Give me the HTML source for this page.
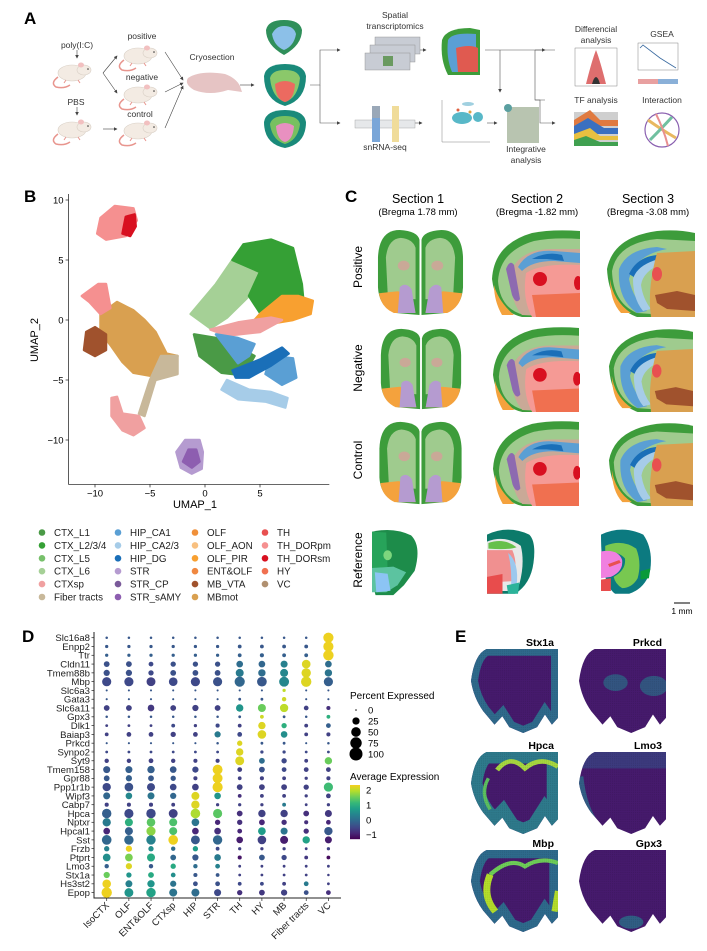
<!DOCTYPE html>
<html><head><meta charset="utf-8"><style>
html,body{margin:0;padding:0;background:#fff}
svg{display:block;font-family:"Liberation Sans",Arial,sans-serif}
</style></head><body>
<svg id="fig" width="707" height="951" viewBox="0 0 707 951" xmlns="http://www.w3.org/2000/svg">
<defs>
 <marker id="arr" markerWidth="6" markerHeight="6" refX="5" refY="3" orient="auto"><path d="M0,0 L6,3 L0,6 Z" fill="#444"/></marker>
 <pattern id="spots" width="2.2" height="2.2" patternUnits="userSpaceOnUse"><rect width="2.2" height="2.2" fill="none"/><circle cx="1.1" cy="1.1" r="0.5" fill="#000" opacity="0.15"/></pattern>
 <clipPath id="ebrain"><path d="M18,0 L100,0 L100,82 L93,90 L85,78 L76,93 L60,100 L44,93 L36,80 L27,90 L14,74 Q3,58 0,38 Q4,6 18,0 Z"/></clipPath>
 <g id="mouse">
  <path d="M-14,4 Q-22,10 -16,14 Q-8,16 -2,12" fill="none" stroke="#e8958e" stroke-width="1.5"/>
  <ellipse cx="0" cy="0" rx="14" ry="8" fill="#f3ebe3" stroke="#d8cfc5" stroke-width="0.6"/>
  <ellipse cx="12" cy="-3" rx="7" ry="5" fill="#f3ebe3" stroke="#d8cfc5" stroke-width="0.6"/>
  <ellipse cx="9" cy="-8" rx="3" ry="2.5" fill="#f2c0c0"/>
  <circle cx="16" cy="-4" r="0.8" fill="#333"/>
  <path d="M-6,7 l-2,3 M6,7 l2,3" stroke="#e8958e" stroke-width="1"/>
 </g>
 <symbol id="sec1" viewBox="0 0 90 90">
  <path d="M2,30 Q3,2 24,2 Q42,3 44,12 L44,88 L20,86 Q3,80 2,60 Z" fill="#3d9c3b"/>
  <path d="M88,30 Q87,2 66,2 Q48,3 46,12 L46,88 L70,86 Q87,80 88,60 Z" fill="#3d9c3b"/>
  <path d="M10,30 Q12,11 25,10 Q37,11 40,20 L40,72 L12,70 Z" fill="#9fcb8e"/>
  <path d="M80,30 Q78,11 65,10 Q53,11 50,20 L50,72 L78,70 Z" fill="#9fcb8e"/>
  <ellipse cx="28" cy="38" rx="6" ry="5" fill="#c9a997"/><ellipse cx="62" cy="38" rx="6" ry="5" fill="#c9a997"/>
  <path d="M3,66 L22,64 L36,68 L40,86 L18,86 Q5,80 3,66Z" fill="#f4a23d"/>
  <path d="M87,66 L68,64 L54,68 L50,86 L72,86 Q85,80 87,66Z" fill="#f4a23d"/>
  <path d="M24,60 Q30,54 36,62 L40,86 L22,86 Z" fill="#b59bd0"/>
  <path d="M66,60 Q60,54 54,62 L50,86 L68,86 Z" fill="#b59bd0"/>
 </symbol>
 <symbol id="sec2" viewBox="0 0 88 88">
  <path d="M0,50 Q2,15 40,4 Q60,0 88,2 L88,88 L30,88 Q4,82 0,50Z" fill="#3d9c3b"/>
  <path d="M6,52 Q8,22 42,12 Q62,8 88,10 L88,88 L32,86 Q8,80 6,52Z" fill="#9fcb8e"/>
  <path d="M20,40 Q30,20 60,20 L88,20 L88,88 L30,86 Q16,70 20,40Z" fill="#c9a997"/>
  <path d="M26,38 Q36,20 62,22 L88,24 L88,34 L62,32 Q40,32 30,42Z" fill="#5a9fd4"/>
  <path d="M40,30 Q55,22 70,26 L72,32 L55,30 Z" fill="#1a6fb8"/>
  <path d="M34,44 Q50,34 88,36 L88,88 L40,88 Q30,70 34,44Z" fill="#f59a95"/>
  <ellipse cx="48" cy="50" rx="7" ry="7" fill="#d81020"/>
  <ellipse cx="86" cy="54" rx="4" ry="7" fill="#d81020"/>
  <path d="M40,66 L88,64 L88,88 L44,88 Z" fill="#f07050"/>
  <path d="M14,40 Q18,30 22,36 L28,70 Q24,76 20,66 Z" fill="#8d6ab0"/>
  <path d="M2,56 Q6,72 22,86 L10,86 Q2,72 2,56Z" fill="#f4a23d"/>
 </symbol>
 <symbol id="sec3" viewBox="0 0 88 88">
  <path d="M0,40 Q6,8 50,2 Q70,0 88,4 L88,88 L30,88 Q2,78 0,40Z" fill="#3d9c3b"/>
  <path d="M5,42 Q10,14 50,10 L88,12 L88,88 L30,84 Q6,74 5,42Z" fill="#9fcb8e"/>
  <path d="M12,40 Q20,20 50,18 L60,20 Q28,26 22,50 Q26,70 40,82 L30,84 Q10,70 12,40Z" fill="#5a9fd4"/>
  <path d="M22,45 Q30,28 50,26 L54,30 Q34,36 30,50 Z" fill="#1a6fb8"/>
  <path d="M26,50 Q30,36 52,30 L56,34 Q36,42 34,56 Q36,70 44,80 L36,82 Q26,70 26,50Z" fill="#a6cce8"/>
  <path d="M50,24 L88,22 L88,88 L44,88 Q40,60 50,24Z" fill="#d9a050"/>
  <ellipse cx="50" cy="45" rx="5" ry="7" fill="#e85050"/>
  <path d="M48,66 L70,62 L88,66 L88,82 L60,80 L50,74Z" fill="#a0522d"/>
  <path d="M3,50 Q6,72 24,84 L14,84 Q3,72 3,50Z" fill="#f4a23d"/>
 </symbol>
 <symbol id="ref1" viewBox="0 0 90 95">
  <path d="M0,5 Q30,-2 55,10 Q70,25 60,60 L45,80 L30,94 L5,94 Q0,80 0,5Z" fill="#1d8c4a"/>
  <path d="M0,5 L20,6 L22,60 L0,62Z" fill="#27a35a"/>
  <ellipse cx="22" cy="38" rx="6" ry="7" fill="#7ed67e"/>
  <path d="M0,56 L30,54 L48,62 L36,80 L20,90 L0,90Z" fill="#5cc3a0"/>
  <path d="M4,62 L22,64 L26,88 L6,90Z" fill="#8cc4f4"/>
 </symbol>
 <symbol id="ref2" viewBox="0 0 88 95">
  <path d="M0,10 Q30,-4 60,10 Q70,20 66,50 Q62,80 40,94 L0,94Z" fill="#0c7a6a"/>
  <path d="M0,20 Q26,10 48,26 Q54,50 46,80 L30,90 L0,90Z" fill="#e8e8e8"/>
  <path d="M2,22 Q24,14 42,28 Q32,32 2,30Z" fill="#66c04a"/>
  <path d="M0,32 L36,32 Q44,50 38,76 L0,78Z" fill="#f09090"/>
  <path d="M30,36 Q46,50 42,82 L34,88 Q36,60 30,36Z" fill="#9cc8ee"/>
  <path d="M0,70 L22,66 L22,94 L0,94Z" fill="#e84c4c"/>
  <path d="M28,82 L46,78 L44,94 L30,94Z" fill="#2bb39a"/>
 </symbol>
 <symbol id="ref3" viewBox="0 0 88 95">
  <path d="M0,10 Q30,-4 60,10 Q74,30 70,60 Q64,86 40,94 L20,94 Q0,80 0,10Z" fill="#0c7a80"/>
  <path d="M6,26 Q30,16 50,30 Q58,50 52,72 Q44,86 30,86 Q20,80 18,70 Q36,60 34,44 Q26,34 6,34Z" fill="#78c850"/>
  <path d="M0,34 Q24,30 30,46 Q32,62 14,70 L0,72Z" fill="#f080e0"/>
  <path d="M10,52 L26,46 L28,50 L12,56Z" fill="#e85050"/>
  <path d="M0,74 L14,72 L14,90 L0,90Z" fill="#e84c4c"/>
  <path d="M56,62 L70,58 L68,72 L56,74Z" fill="#0a9a3a"/>
 </symbol>
</defs>

<g font-size="8.5" fill="#333">
 <text x="24" y="24" font-size="17" font-weight="bold" fill="#000">A</text>
 <text x="77" y="48" text-anchor="middle">poly(I:C)</text>
 <line x1="77" y1="50" x2="77" y2="58" stroke="#444" stroke-width="0.6" marker-end="url(#arr)"/>
 <use href="#mouse" x="72" y="73"/>
 <text x="76" y="105" text-anchor="middle">PBS</text>
 <line x1="77" y1="107" x2="77" y2="115" stroke="#444" stroke-width="0.6" marker-end="url(#arr)"/>
 <use href="#mouse" x="72" y="130"/>
 <text x="142" y="39" text-anchor="middle">positive</text>
 <use href="#mouse" x="138" y="56"/>
 <text x="142" y="80" text-anchor="middle">negative</text>
 <use href="#mouse" x="138" y="95"/>
 <text x="140" y="117" text-anchor="middle">control</text>
 <use href="#mouse" x="138" y="131"/>
 <g stroke="#444" stroke-width="0.6" fill="none">
  <line x1="103" y1="73" x2="117" y2="56" marker-end="url(#arr)"/>
  <line x1="103" y1="73" x2="117" y2="93" marker-end="url(#arr)"/>
  <line x1="103" y1="129" x2="117" y2="129" marker-end="url(#arr)"/>
  <line x1="165" y1="52" x2="183" y2="80" marker-end="url(#arr)"/>
  <line x1="165" y1="92" x2="183" y2="83" marker-end="url(#arr)"/>
  <line x1="165" y1="128" x2="183" y2="86" marker-end="url(#arr)"/>
  <line x1="240" y1="85" x2="254" y2="85" marker-end="url(#arr)"/>
 </g>
 <text x="212" y="60" text-anchor="middle">Cryosection</text>
 <path d="M188,78 Q200,70 225,74 Q236,78 240,86 L242,92 L228,90 Q210,96 194,90 Q184,84 188,78Z" fill="#e6c4c4"/>
 <g>
  <path d="M266,30 Q268,20 284,20 Q300,20 302,30 Q302,45 284,55 Q266,45 266,30Z" fill="#2f8f5a"/>
  <path d="M272,34 Q276,26 284,26 Q294,26 296,34 Q294,46 284,50 Q274,46 272,34Z" fill="#8cc0e8"/>
  <path d="M264,76 Q266,64 285,64 Q304,64 306,76 Q306,100 285,106 Q264,100 264,76Z" fill="#1a8a7a"/>
  <path d="M270,78 Q272,70 285,70 Q298,70 300,78 Q298,98 285,102 Q272,98 270,78Z" fill="#8bc86a"/>
  <path d="M275,84 Q285,78 295,84 Q294,100 285,102 Q276,100 275,84Z" fill="#ec6a60"/>
  <path d="M264,122 Q266,110 285,110 Q304,110 306,122 Q306,144 285,148 Q264,144 264,122Z" fill="#1a8a7a"/>
  <path d="M270,124 Q272,116 285,116 Q298,116 300,124 Q298,140 285,144 Q272,140 270,124Z" fill="#78c060"/>
  <path d="M276,126 Q285,120 294,126 Q293,140 285,142 Q277,140 276,126Z" fill="#e890c0"/>
 </g>
 <g stroke="#555" stroke-width="0.6" fill="none">
  <path d="M310,85 L320,85 L320,50 L340,50" marker-end="url(#arr)"/>
  <path d="M320,85 L320,123 L340,123" marker-end="url(#arr)"/>
  <line x1="412" y1="50" x2="426" y2="50" marker-end="url(#arr)"/>
  <path d="M485,50 L555,50" />
  <path d="M500,50 L500,92" marker-end="url(#arr)"/>
  <path d="M535,50 L535,100 L545,100" />
  <path d="M535,50 L545,50" marker-end="url(#arr)"/>
  <path d="M535,100 L540,100 L540,123 L555,123" marker-end="url(#arr)"/>
  <line x1="412" y1="123" x2="422" y2="123" marker-end="url(#arr)"/>
  <line x1="487" y1="123" x2="497" y2="123" marker-end="url(#arr)"/>
 </g>
 <text x="395" y="18" text-anchor="middle">Spatial</text>
 <text x="395" y="29" text-anchor="middle">transcriptomics</text>
 <g>
  <rect x="375" y="37" width="45" height="17" fill="#c8ccd4" stroke="#888" stroke-width="0.4"/>
  <rect x="370" y="45" width="45" height="17" fill="#c8ccd4" stroke="#888" stroke-width="0.4"/>
  <rect x="365" y="53" width="45" height="17" fill="#c8ccd4" stroke="#888" stroke-width="0.4"/>
  <rect x="383" y="56" width="10" height="10" fill="#6a9a60"/>
 </g>
 <g>
  <path d="M442,40 Q446,28 470,28 L480,30 L480,75 L448,75 Q440,60 442,40Z" fill="#3d9c3b"/>
  <path d="M448,40 Q452,32 476,34 L476,72 L452,72 Q446,58 448,40Z" fill="#5a9fd4"/>
  <path d="M456,48 Q470,44 478,48 L478,72 L458,72Z" fill="#e05a50"/>
 </g>
 <text x="385" y="150" text-anchor="middle">snRNA-seq</text>
 <g>
  <rect x="355" y="120" width="60" height="8" fill="#e6e8ea" stroke="#999" stroke-width="0.4"/>
  <rect x="372" y="106" width="8" height="36" fill="#7aa6d8"/>
  <rect x="392" y="106" width="7" height="36" fill="#f0dc9a"/>
  <rect x="372" y="106" width="8" height="12" fill="#9aa8b8"/>
 </g>
 <g>
  <line x1="442" y1="100" x2="442" y2="142" stroke="#666" stroke-width="0.4"/>
  <line x1="442" y1="142" x2="490" y2="142" stroke="#666" stroke-width="0.4"/>
  <ellipse cx="462" cy="118" rx="10" ry="6" fill="#58b8c8"/>
  <ellipse cx="478" cy="117" rx="5" ry="5" fill="#58b8c8"/>
  <ellipse cx="468" cy="104" rx="6" ry="2" fill="#a0d0e0"/>
  <circle cx="458" cy="110" r="1.5" fill="#e06040"/><circle cx="470" cy="112" r="1.5" fill="#e0a040"/>
 </g>
 <g>
  <rect x="507" y="107" width="32" height="36" fill="#b8c4b0"/>
  <circle cx="508" cy="108" r="4" fill="#5a9fa0"/>
 </g>
 <text x="526" y="152" text-anchor="middle">Integrative</text>
 <text x="526" y="163" text-anchor="middle">analysis</text>
 <text x="596" y="32" text-anchor="middle">Differencial</text>
 <text x="596" y="43" text-anchor="middle">analysis</text>
 <g>
  <rect x="575" y="48" width="42" height="38" fill="#fff" stroke="#666" stroke-width="0.4"/>
  <path d="M586,84 Q592,60 596,50 Q600,60 606,84Z" fill="#d03030" opacity="0.7"/>
  <path d="M592,84 Q596,70 600,84Z" fill="#333"/>
 </g>
 <text x="662" y="37" text-anchor="middle">GSEA</text>
 <g>
  <rect x="638" y="43" width="40" height="27" fill="#fff" stroke="#666" stroke-width="0.4"/>
  <polyline points="640,48 643,45 660,58 676,68" fill="none" stroke="#3a6aa0" stroke-width="0.8"/>
  <rect x="638" y="79" width="40" height="5" fill="#e8a0a0"/>
  <rect x="658" y="79" width="20" height="5" fill="#8ab0d8"/>
 </g>
 <text x="596" y="103" text-anchor="middle">TF analysis</text>
 <g>
  <rect x="574" y="112" width="44" height="34" fill="#cfcfcf"/>
  <path d="M574,120 L590,110 L600,120 L618,120 L618,126 L574,126Z" fill="#e07a40"/>
  <path d="M574,126 L588,118 L604,128 L618,128 L618,134 L574,134Z" fill="#3a70c0"/>
  <path d="M574,134 L590,128 L600,136 L618,136 L618,140 L574,140Z" fill="#e8c040"/>
  <path d="M574,140 L586,136 L600,142 L618,142 L618,146 L574,146Z" fill="#40a050"/>
 </g>
 <text x="662" y="103" text-anchor="middle">Interaction</text>
 <g>
  <circle cx="662" cy="130" r="17" fill="none" stroke="#8a60b0" stroke-width="1.2"/>
  <path d="M648,120 Q662,130 676,138" stroke="#e8b860" stroke-width="3" fill="none"/>
  <path d="M650,140 Q662,128 672,117" stroke="#70c0a0" stroke-width="3" fill="none"/>
  <path d="M656,114 Q664,130 668,146" stroke="#e89090" stroke-width="2" fill="none"/>
 </g>
</g>

<g id="panelB" font-size="9.5">
 <text x="24" y="202" font-size="17" font-weight="bold">B</text>
</g>

<g id="panelC">
 <text x="345" y="202" font-size="17" font-weight="bold">C</text>
 <text x="418" y="203" font-size="12.5" text-anchor="middle">Section 1</text>
 <text x="418" y="215" font-size="9.5" text-anchor="middle">(Bregma 1.78 mm)</text>
 <text x="537" y="203" font-size="12.5" text-anchor="middle">Section 2</text>
 <text x="537" y="215" font-size="9.5" text-anchor="middle">(Bregma -1.82 mm)</text>
 <text x="648" y="203" font-size="12.5" text-anchor="middle">Section 3</text>
 <text x="648" y="215" font-size="9.5" text-anchor="middle">(Bregma -3.08 mm)</text>
 <text transform="translate(362,267) rotate(-90)" font-size="12" text-anchor="middle">Positive</text>
 <text transform="translate(362,368) rotate(-90)" font-size="12" text-anchor="middle">Negative</text>
 <text transform="translate(362,460) rotate(-90)" font-size="12" text-anchor="middle">Control</text>
 <text transform="translate(362,560) rotate(-90)" font-size="12" text-anchor="middle">Reference</text>
 <use href="#sec1" x="376" y="228" width="89" height="89"/>
 <use href="#sec2" x="492" y="229" width="88" height="88"/>
 <use href="#sec3" x="607" y="229" width="88" height="88"/>
 <use href="#sec1" x="377" y="327" width="88" height="84"/>
 <use href="#sec2" x="492" y="326" width="88" height="86"/>
 <use href="#sec3" x="607" y="328" width="88" height="84"/>
 <use href="#sec1" x="376" y="420" width="89" height="86"/>
 <use href="#sec2" x="492" y="420" width="88" height="86"/>
 <use href="#sec3" x="607" y="422" width="88" height="84"/>
 <use href="#ref1" x="372" y="515" width="64" height="94" preserveAspectRatio="none"/>
 <use href="#ref2" x="487" y="515" width="62" height="92" preserveAspectRatio="none"/>
 <use href="#ref3" x="601" y="515" width="62" height="92" preserveAspectRatio="none"/>
 <line x1="674" y1="603" x2="690" y2="603" stroke="#000" stroke-width="1"/>
 <text x="682" y="614" font-size="8.5" text-anchor="middle">1 mm</text>
</g>

<g id="panelD" font-size="9.6">
 <text x="22" y="642" font-size="17" font-weight="bold">D</text>
 <text x="350" y="699" font-size="10">Percent Expressed</text>
 <text x="350" y="780" font-size="10">Average Expression</text>
</g>

<g id="panelE">
 <text x="455" y="642" font-size="17" font-weight="bold">E</text>
</g>
</svg>

<script>
const NS="http://www.w3.org/2000/svg";
function mk(parent,tag,attrs,txt){const e=document.createElementNS(NS,tag);for(const k in attrs)e.setAttribute(k,attrs[k]);if(txt!==undefined)e.textContent=txt;parent.appendChild(e);return e;}

const umapXTicks=[-10,-5,0,5];
const umapYTicks=[10,5,0,-5,-10];
const clusterNames=["CTX_L1","CTX_L2/3/4","CTX_L5","CTX_L6","CTXsp","Fiber tracts","HIP_CA1","HIP_CA2/3","HIP_DG","STR","STR_CP","STR_sAMY","OLF","OLF_AON","OLF_PIR","ENT&OLF","MB_VTA","MBmot","TH","TH_DORpm","TH_DORsm","HY","VC"];
const clusterColors=["#4a9a46","#35a035","#77c06b","#a5d096","#f0a0a0","#c8b89a","#5a9fd4","#a6cce8","#1a6fb8","#b59bd0","#7a5a9a","#8d5eb0","#f0903a","#f8c080","#f8a030","#f08840","#a0522d","#d9a050","#e85050","#f59090","#d81020","#f07050","#b09070"];
const blobCTXL6=[[-1.3,0.5],[1,3],[2.5,5],[4,5.8],[5,4],[4,2],[2,0.2],[0.5,-0.7]];
const blobCTX=[[2.5,5],[3.5,6.3],[6,6.7],[8,6],[8.8,3],[9,1],[7,0.5],[5,0.6],[4,2],[5,4]];
const blobOLF=[[5,0.5],[7,2],[8.5,2],[9.8,1.6],[9.6,0.5],[8,0],[6,-0.3],[4,-0.5]];
const blobSp=[[0.5,-0.8],[3,-0.2],[6,0.2],[7,0],[5,-1],[2,-1.3]];
const blobTH=[[-9.8,7.2],[-9.5,8.5],[-8.2,9.5],[-6.5,9.3],[-6.2,8.3],[-7.2,7],[-9,6.7]];
const blobTHsm=[[-7.5,7.2],[-7.2,8.6],[-6.4,8.8],[-6.3,7.8],[-6.8,7]];
const blobMBmot=[[-9.5,0.5],[-8,1.5],[-6.5,0.8],[-5.5,0],[-4.5,-1],[-3.5,-2.8],[-2.5,-3],[-3,-4.5],[-4,-4.8],[-6.5,-4.4],[-7.5,-3.5],[-8.5,-2.2],[-9.5,-1]];
const blobVTA=[[-10.8,-1],[-10,-0.6],[-9,-1.2],[-9,-2.5],[-10,-3],[-11,-2.5]];
const blobDORpm=[[-9.7,3],[-9,3],[-8.6,1],[-9.5,0.5],[-10.5,1.5],[-11.2,2]];
const blobFiber=[[-4,-3],[-2.5,-3],[-2.5,-4.5],[-4.5,-5],[-5.5,-8],[-6,-7.8],[-5,-5]];
const blobBottom=[[-8.5,-6.5],[-8,-6.4],[-7.5,-7.8],[-6,-8],[-5.5,-9],[-6.5,-9.6],[-7.5,-9.2],[-8.5,-8]];
const blobGreenStrip=[[-1,-1.2],[1,-1.5],[3.5,-2.5],[4.5,-3],[3.5,-4.6],[1.5,-4.4],[-0.5,-3]];
const blobDG=[[2.5,-4.2],[5,-3.3],[7,-2.3],[7.6,-2.8],[6,-3.8],[4,-4.8],[2.8,-4.8]];
const blobCA1=[[1,-1.2],[3,-1.5],[4.5,-2],[4,-3],[3,-3.6]];
const blobCA1b=[[6,-3],[8,-3.2],[8.3,-4.8],[7,-5.4],[5.5,-4.5]];
const blobCA23=[[2,-5],[4,-5.8],[6,-6],[7.5,-6.5],[7.3,-7.3],[5.5,-6.8],[3,-6.6],[1.5,-5.8]];
const blobSTR=[[-1.8,-10],[-0.5,-10],[-0.2,-11],[-0.3,-12.4],[-1.2,-12.8],[-2.2,-12.3],[-2.6,-11]];
const blobSTRsAMY=[[-1.5,-10.8],[-0.8,-10.8],[-0.5,-11.8],[-1.2,-12.3],[-2,-11.8]];
const blobList=[[3,blobCTXL6],[1,blobCTX],[14,blobOLF],[4,blobSp],[19,blobTH],[20,blobTHsm],[17,blobMBmot],[16,blobVTA],[19,blobDORpm],[5,blobFiber],[4,blobBottom],[0,blobGreenStrip],[6,blobCA1],[6,blobCA1b],[7,blobCA23],[8,blobDG],[9,blobSTR],[11,blobSTRsAMY]];

const bx=u=>205+11*u, by=v=>320-12*v;
(function(){
 const g=document.getElementById('panelB');
 blobList.forEach(([ci,pts])=>{
  const p=mk(g,'path',{d:'M'+pts.map(q=>bx(q[0]).toFixed(1)+','+by(q[1]).toFixed(1)).join(' L')+'Z',fill:clusterColors[ci],stroke:clusterColors[ci],'stroke-width':2.5,'stroke-linejoin':'round'});
  
  
 });
 const ax=mk(g,'path',{d:`M${bx(-12.4)},${by(10.5)} L${bx(-12.4)},${by(-13.7)} L${bx(11.3)},${by(-13.7)}`,fill:'none',stroke:'#333','stroke-width':0.8});
 
 
 umapXTicks.forEach(t=>{
  mk(g,'line',{x1:bx(t),x2:bx(t),y1:by(-13.7),y2:by(-13.7)+3,stroke:'#333','stroke-width':0.8});
  const l=mk(g,'text',{x:bx(t),y:by(-13.7)+12,'text-anchor':'middle','font-size':9.5},t<0?'\u2212'+(-t):t);
  
  
 });
 umapYTicks.forEach(t=>{
  mk(g,'line',{x1:bx(-12.4)-3,x2:bx(-12.4),y1:by(t),y2:by(t),stroke:'#333','stroke-width':0.8});
  const l=mk(g,'text',{x:bx(-12.4)-5,y:by(t)+3.5,'text-anchor':'end','font-size':9.5},t<0?'\u2212'+(-t):t);
  
  
 });
 const xt=mk(g,'text',{x:195,y:508,'text-anchor':'middle','font-size':11},'UMAP_1');
 
 
 const yt=mk(g,'text',{transform:'translate(38,340) rotate(-90)','text-anchor':'middle','font-size':11},'UMAP_2');
 
 
 const colX=[42,118,195,265];
 clusterNames.forEach((n,i)=>{
  const c=Math.floor(i/6), r=i%6, y=536+r*12.9;
  const d=mk(g,'circle',{cx:colX[c],cy:y-3.5,r:3.3,fill:clusterColors[i]});
  
  
  const t=mk(g,'text',{x:colX[c]+12,y:y,'font-size':9.8,fill:'#222'},n);
  
  
 });
})();

const genes=["Slc16a8","Enpp2","Ttr","Cldn11","Tmem88b","Mbp","Slc6a3","Gata3","Slc6a11","Gpx3","Dlk1","Baiap3","Prkcd","Synpo2","Syt9","Tmem158","Gpr88","Ppp1r1b","Wipf3","Cabp7","Hpca","Nptxr","Hpcal1","Sst","Frzb","Ptprt","Lmo3","Stx1a","Hs3st2","Epop"];
const regions=["IsoCTX","OLF","ENT&OLF","CTXsp","HIP","STR","TH","HY","MB","Fiber tracts","VC"];
const pctExpressed=[
[2,2,2,2,2,2,2,2,2,2,95],[5,5,5,5,5,5,8,8,8,8,95],[5,5,5,5,5,5,8,10,8,8,100],
[25,25,15,20,20,20,35,35,40,65,35],[30,30,20,25,25,25,55,45,55,80,45],[75,75,70,65,75,75,95,85,90,100,75],
[1,1,1,1,1,1,1,1,5,1,1],[1,1,1,1,1,1,3,3,12,1,1],[25,25,35,25,30,25,45,55,60,15,10],
[2,2,2,2,2,2,3,8,3,2,8],[3,3,3,8,5,10,8,45,20,8,15],[8,15,15,20,15,30,15,65,35,8,10],
[1,1,1,1,1,2,20,3,3,1,2],[3,3,3,3,3,3,45,5,5,3,3],[12,12,15,12,10,10,70,25,20,8,45],
[40,40,45,35,30,90,15,25,15,15,15],[25,30,25,20,10,90,8,10,8,5,10],[60,65,55,35,35,95,25,25,25,20,75],
[40,35,40,30,55,35,8,8,8,5,15],[10,10,10,8,60,5,5,5,8,3,5],[80,75,80,70,85,75,25,45,45,25,40],
[60,55,65,55,50,20,20,25,20,10,15],[35,55,75,55,35,35,15,50,40,20,60],[85,80,80,85,70,80,35,65,55,45,40],
[20,30,20,12,20,8,5,5,5,3,5],[50,50,55,25,30,35,10,25,20,8,8],[12,30,12,20,12,15,3,3,3,3,3],
[30,20,25,15,10,8,3,3,3,3,2],[65,40,45,30,15,15,8,8,8,15,3],[100,70,80,55,55,40,20,25,30,15,15]];
const avgExpression=[
[-0.3,-0.3,-0.3,-0.3,-0.3,-0.3,-0.3,-0.3,-0.3,-0.3,2.3],[-0.3,-0.3,-0.3,-0.3,-0.3,-0.3,-0.3,-0.3,-0.3,-0.3,2.3],[-0.2,-0.2,-0.2,-0.2,-0.2,-0.2,-0.2,-0.2,-0.2,-0.2,2.3],
[-0.4,-0.4,-0.5,-0.4,-0.4,-0.4,0,-0.1,0.3,2.2,0],[-0.4,-0.4,-0.5,-0.4,-0.4,-0.4,0.2,0,0.4,2.2,0.1],[-0.5,-0.5,-0.6,-0.5,-0.5,-0.4,-0.1,-0.3,0.4,2.2,-0.2],
[-0.3,-0.3,-0.3,-0.3,-0.3,-0.3,-0.3,-0.3,2.0,-0.3,-0.3],[-0.3,-0.3,-0.3,-0.3,-0.3,-0.3,-0.3,-0.3,2.1,-0.3,-0.3],[-0.6,-0.6,-0.7,-0.6,-0.6,-0.6,0.6,1.5,2.0,-0.6,-0.8],
[-0.3,-0.3,-0.3,-0.3,-0.3,-0.3,-0.3,2.1,-0.3,-0.3,1.0],[-0.6,-0.6,-0.6,-0.5,-0.6,-0.5,-0.6,2.2,1.0,-0.6,-0.2],[-0.6,-0.6,-0.6,-0.6,-0.6,0.2,-0.5,2.2,0.5,-0.6,-0.6],
[-0.3,-0.3,-0.3,-0.3,-0.3,-0.3,2.2,-0.3,-0.3,-0.3,-0.3],[-0.5,-0.5,-0.5,-0.5,-0.5,-0.5,2.2,-0.5,-0.5,-0.5,-0.5],[-0.6,-0.6,-0.6,-0.6,-0.6,-0.6,2.2,0,-0.5,-0.6,1.5],
[-0.3,-0.2,-0.2,-0.3,-0.5,2.3,-0.6,-0.4,-0.5,-0.6,-0.6],[-0.3,-0.2,-0.3,-0.3,-0.6,2.3,-0.6,-0.6,-0.6,-0.6,-0.6],[-0.5,-0.4,-0.5,-0.5,-0.6,2.3,-0.6,-0.6,-0.6,-0.6,1.2],
[-0.1,0.4,0.1,-0.1,2.2,0.6,-0.8,-0.6,-0.6,-0.6,-0.6],[-0.6,-0.6,-0.6,-0.6,2.2,-0.6,-0.6,-0.6,0.2,-0.6,-0.6],[-0.2,-0.5,-0.5,-0.6,1.9,1.4,-0.8,-0.6,-0.6,-0.8,-0.7],
[0.2,1.0,1.4,1.3,0.1,-0.9,-0.8,-0.9,-0.8,-0.8,-0.9],[-0.9,-0.2,1.7,1.3,-0.9,-0.8,-0.9,0.7,0.1,-0.8,-0.3],[-0.1,-0.1,0.3,2.3,-0.3,-0.1,-1,-0.6,-1,0.8,-1],
[0.3,2.3,0.5,0,0.7,-0.5,-0.6,-0.6,-0.6,-0.6,-0.6],[0.5,1.6,0.9,-0.1,-0.3,0.2,-1.1,-0.3,-0.5,-0.7,-1.2],[-0.2,2.2,-0.3,0.9,0,0.3,-0.6,-0.6,-0.6,-0.6,-0.6],
[1.5,0.6,0.9,0.5,-0.3,-0.3,-0.6,-0.6,-0.6,-0.6,-0.6],[2.3,0.3,0.6,0.1,-0.4,-0.4,-0.5,-0.5,-0.6,0.2,-0.6],[2.3,0.6,0.8,0.1,0,-0.5,-0.8,-0.7,-0.6,-0.4,-0.8]];
const pctLegendValues=[0,25,50,75,100];
const exprLegendTicks=[2,1,0,-1];

const VIR=["#440154","#482878","#3e4a89","#31688e","#26828e","#1f9e89","#35b779","#6ece58","#b5de2b","#f5cf1f"];
function hex2rgb(h){return [1,3,5].map(i=>parseInt(h.substr(i,2),16));}
function viridis(t){t=Math.max(0,Math.min(1,t));const s=t*(VIR.length-1),i=Math.min(VIR.length-2,Math.floor(s)),f=s-i;const a=hex2rgb(VIR[i]),b=hex2rgb(VIR[i+1]);return 'rgb('+a.map((v,k)=>Math.round(v+(b[k]-v)*f)).join(',')+')';}
const eMin=-1.3,eMax=2.35;
const colorOf=v=>viridis((v-eMin)/(eMax-eMin));
const dX=i=>106.7+i*22.17, dY=j=>637.7+j*8.79, dR=p=>0.6+4.6*Math.sqrt(p/100);
(function(){
 const g=document.getElementById('panelD');
 const ax=mk(g,'path',{d:'M94,632 L94,898 L341,898',fill:'none',stroke:'#222','stroke-width':1});
 
 
 genes.forEach((gn,j)=>{
  mk(g,'line',{x1:91.5,x2:94,y1:dY(j),y2:dY(j),stroke:'#222','stroke-width':0.7});
  const t=mk(g,'text',{x:90,y:dY(j)+3.4,'text-anchor':'end','font-size':9.6,fill:'#222'},gn);
  
  
  regions.forEach((rg,i)=>{
   const c=mk(g,'circle',{cx:dX(i).toFixed(1),cy:dY(j).toFixed(1),r:dR(pctExpressed[j][i]).toFixed(2),fill:colorOf(avgExpression[j][i])});
   
   
  });
 });
 regions.forEach((rg,i)=>{
  mk(g,'line',{x1:dX(i),x2:dX(i),y1:898,y2:901,stroke:'#222','stroke-width':0.7});
  const t=mk(g,'text',{transform:`translate(${dX(i)+3},${906}) rotate(-45)`,'text-anchor':'end','font-size':9.6,fill:'#222'},rg);
  
  
 });
 pctLegendValues.forEach((p,k)=>{
  const y=710+k*11;
  const c=mk(g,'circle',{cx:356,cy:y,r:dR(p)*1.25,fill:'#000'});
  
  
  const t=mk(g,'text',{x:368,y:y+3.5,'font-size':9.5},p);
  
  
 });
 const cbTop=785,cbH=54,cbX=350,cbW=10;
 const cbY=v=>cbTop+cbH*(eMax-v)/(eMax-eMin);
 for(let k=0;k<54;k++){
  const v=eMax-(k+0.5)*(eMax-eMin)/54;
  mk(g,'rect',{x:cbX,y:cbTop+k,width:cbW,height:1.2,fill:colorOf(v)});
 }
 exprLegendTicks.forEach(v=>{
  const t=mk(g,'text',{x:366,y:cbY(v)+3.5,'font-size':9.5},v<0?'\u2212'+(-v):v);
  
  
 });
})();

(function(){
 const g=document.getElementById('panelE');
 const maps=[["Stx1a",471,649,87,84],["Prkcd",579,649,87,84],["Hpca",471,752,87,82],["Lmo3",579,752,87,82],["Mbp",471,850,87,82],["Gpx3",579,850,87,82]];
 const outline="M18,0 L100,0 L100,82 L93,90 L85,78 L76,93 L60,100 L44,93 L36,80 L27,90 L14,74 Q3,58 0,38 Q4,6 18,0 Z";
 maps.forEach(([name,x,y,w,h])=>{
  const gg=mk(g,'g',{transform:`translate(${x},${y}) scale(${w/100},${h/100})`});
  
  
  const inner=mk(gg,'g',{'clip-path':'url(#ebrain)'});
  mk(inner,'rect',{x:0,y:0,width:100,height:100,fill:'#461a6d'});
  if(name==="Stx1a"){mk(inner,'path',{d:outline,fill:'none',stroke:'#2f6a8c','stroke-width':16});mk(inner,'path',{d:"M0,0 L100,0 L100,6 L0,8Z",fill:'#2f6a8c'});}
  if(name==="Hpca"){mk(inner,'path',{d:outline,fill:'none',stroke:'#2e7a8c','stroke-width':26});mk(inner,'rect',{x:0,y:0,width:100,height:14,fill:'#2e7a8c'});
   mk(inner,'path',{d:"M30,22 Q45,2 62,20 Q80,4 100,18",fill:'none',stroke:'#a8d840','stroke-width':5.5});
   mk(inner,'path',{d:"M20,32 Q10,50 22,70",fill:'none',stroke:'#5cc060','stroke-width':4});}
  if(name==="Mbp"){mk(inner,'path',{d:outline,fill:'none',stroke:'#2e6a8c','stroke-width':20});
   mk(inner,'path',{d:"M22,30 Q45,8 62,20 Q80,8 100,16",fill:'none',stroke:'#6ece58','stroke-width':5});
   mk(inner,'path',{d:"M22,30 Q12,55 28,75",fill:'none',stroke:'#b5de2b','stroke-width':8});
   mk(inner,'path',{d:"M100,50 L96,75",fill:'none',stroke:'#b5de2b','stroke-width':7});}
  if(name==="Prkcd"){mk(inner,'ellipse',{cx:42,cy:40,rx:14,ry:10,fill:'#2b6f8a',opacity:0.7});mk(inner,'ellipse',{cx:86,cy:44,rx:16,ry:12,fill:'#2b6f8a',opacity:0.7});}
  if(name==="Lmo3"){mk(inner,'path',{d:"M0,30 Q4,70 20,90",fill:'none',stroke:'#2e6f8c','stroke-width':10,opacity:0.8});mk(inner,'rect',{x:0,y:0,width:100,height:20,fill:'#36508a',opacity:0.6});}
  if(name==="Gpx3"){mk(inner,'ellipse',{cx:60,cy:88,rx:14,ry:8,fill:'#2b6f8a',opacity:0.8});}
  mk(inner,'rect',{x:0,y:0,width:100,height:100,fill:'url(#spots)'});
  const t=mk(g,'text',{x:x+w-4,y:y-3,'text-anchor':'end','font-size':10.5,'font-weight':'bold'},name);
  
  
 });
})();
</script>
</body></html>
